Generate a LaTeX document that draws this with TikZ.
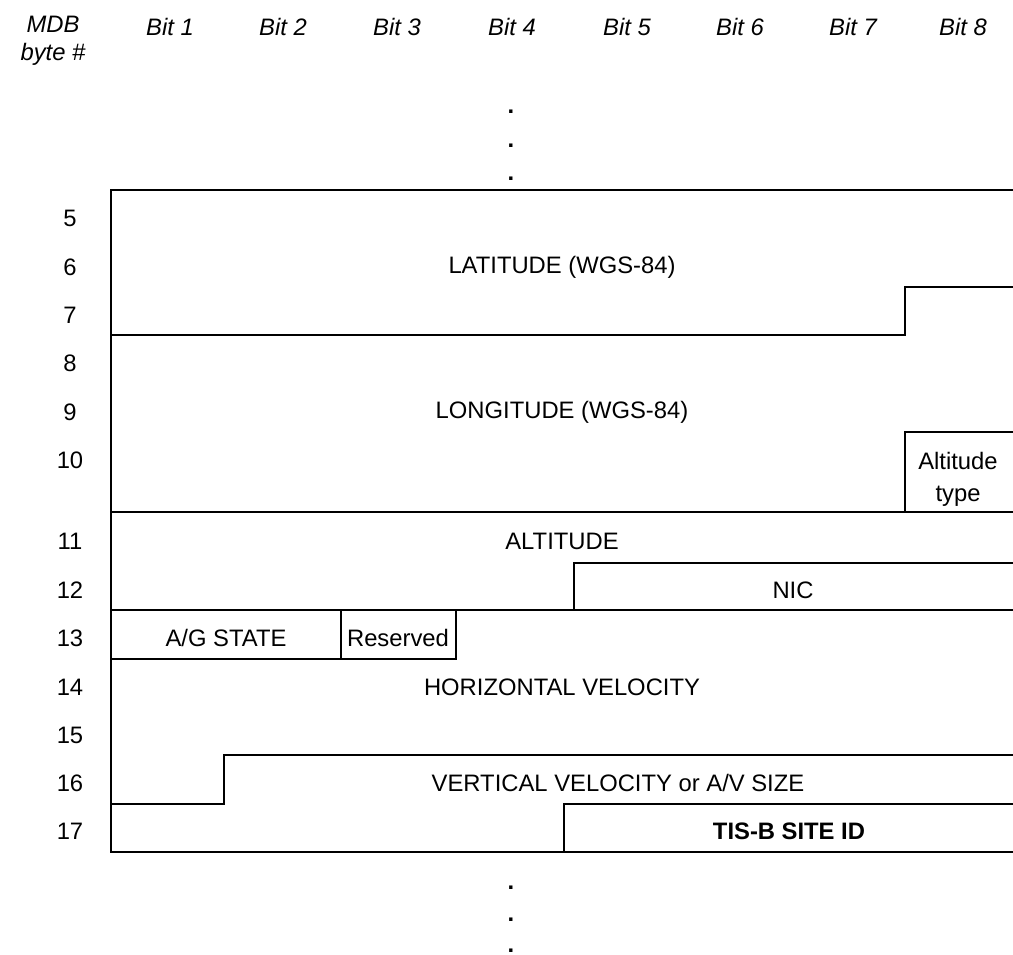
\documentclass[tikz,border=0pt]{standalone}
\usepackage{fontspec}
\setmainfont{Liberation Sans}
\begin{document}
\begin{tikzpicture}[x=1pt,y=-1pt,line width=1.2pt,line cap=rect,
  lbl/.style={font=\fontsize{23.8}{28}\selectfont,inner sep=0pt},
  hdr/.style={font=\fontsize{23.8}{28}\selectfont\itshape,inner sep=0pt},
  byte/.style={lbl},
  ellip/.style={font=\fontsize{23.8}{28}\selectfont\bfseries,inner sep=0pt,anchor=base}]
\useasboundingbox (0,0) rectangle (1013,955);

% column headings
\node[hdr,align=center] (mdb) at (53,41) {MDB\\byte \#};
\foreach \i/\x in {1/170,2/283,3/397,4/512,5/627,6/740,7/853,8/963}
  \node[hdr] (bit\i) at (\x,27) {Bit \i};

% continuation dots
\foreach \k/\y in {a/114,b/148,c/181}
  \node[ellip] (dot\k) at (511,\y) {.};
\foreach \k/\y in {a/889,b/921,c/952}
  \node[ellip] (dotb\k) at (511,\y) {.};

% byte numbers
\foreach \n/\y in {5/218,6/267,7/315,8/363,9/412,10/460,11/541,12/590,13/638,14/687,15/735,16/783,17/831}
  \node[byte] (b\n) at (70,\y) {\n};

% field outlines
\draw (1013,190) -- (111,190) -- (111,852) -- (1013,852);
\draw (111,335) -- (905,335) -- (905,287) -- (1013,287);
\draw (1013,432) -- (905,432) -- (905,512);
\draw (111,512) -- (1013,512);
\draw (574,610) -- (574,563) -- (1013,563);
\draw (111,610) -- (1013,610);
\draw (111,659) -- (456,659) -- (456,610);
\draw (341,610) -- (341,659);
\draw (111,804) -- (224,804) -- (224,755) -- (1013,755);
\draw (564,852) -- (564,804) -- (1013,804);

% field names
\node[lbl] (lat) at (562,267) {LATITUDE (WGS-84)};
\node[lbl] (lon) at (562,412) {LONGITUDE (WGS-84)};
\node[lbl,align=center] (alttype) at (958,479) {Altitude\\[4pt]type};
\node[lbl] (alt) at (562,541) {ALTITUDE};
\node[lbl] (nic) at (793,590) {NIC};
\node[lbl] (ag) at (226,638) {A/G STATE};
\node[lbl] (res) at (398,638) {Reserved};
\node[lbl] (hv) at (562,687) {HORIZONTAL VELOCITY};
\node[lbl] (vv) at (618,783) {VERTICAL VELOCITY or A/V SIZE};
\node[lbl,font=\fontsize{23.8}{28}\selectfont\bfseries] (tis) at (789,831) {TIS-B SITE ID};
\end{tikzpicture}
\end{document}
